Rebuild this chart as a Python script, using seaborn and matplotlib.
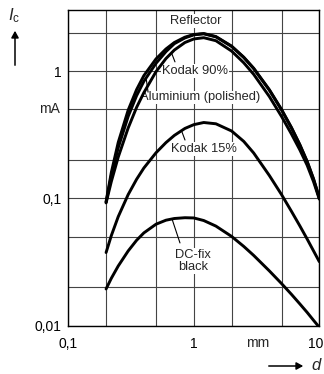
import numpy as np
import pandas as pd
import seaborn as sns
import matplotlib.pyplot as plt
import matplotlib.font_manager as fm
import matplotlib.transforms as mtransforms
from matplotlib.patches import FancyArrowPatch
from matplotlib.ticker import FixedLocator, NullFormatter

# distance d (mm) at which the curves were read
d_mm = [0.2, 0.22, 0.25, 0.3, 0.35, 0.4, 0.5, 0.6, 0.7, 0.85, 1, 1.2, 1.5,
        2, 2.5, 3, 4, 5, 6, 7, 8, 9, 10]

# collector current Ic (mA) per reflecting surface
reflector = [0.094, 0.159, 0.275, 0.493, 0.714, 0.92, 1.245, 1.49, 1.675, 1.845, 1.936, 1.97, 1.866,
             1.57, 1.285, 1.052, 0.713, 0.499, 0.36, 0.264, 0.195, 0.142, 0.101]
aluminium = [0.093, 0.15, 0.25, 0.44, 0.64, 0.83, 1.15, 1.42, 1.64, 1.82, 1.925, 1.96, 1.855,
             1.56, 1.277, 1.045, 0.708, 0.495, 0.357, 0.262, 0.194, 0.141, 0.1005]
kodak90 = [0.092, 0.135, 0.211, 0.357, 0.518, 0.676, 0.989, 1.253, 1.462, 1.675, 1.786, 1.827, 1.73,
           1.435, 1.161, 0.942, 0.63, 0.44, 0.32, 0.24, 0.182, 0.135, 0.0985]
kodak15 = [0.0375, 0.0508, 0.0718, 0.107, 0.141, 0.173, 0.228, 0.274, 0.312, 0.354, 0.379, 0.394, 0.385,
           0.338, 0.280, 0.227, 0.151, 0.107, 0.079, 0.0607, 0.0479, 0.0386, 0.0318]
dcfix = [0.0194, 0.0235, 0.0294, 0.0386, 0.0468, 0.0535, 0.0626, 0.0673, 0.0694, 0.0704, 0.0701, 0.0669, 0.0605,
         0.0502, 0.0419, 0.0356, 0.0269, 0.0214, 0.0176, 0.0148, 0.0127, 0.0110, 0.0097]

series = {"Reflector": reflector, "Aluminium (polished)": aluminium,
          "Kodak 90%": kodak90, "Kodak 15%": kodak15, "DC-fix black": dcfix}

x_ticks = [0.1, 1, 10]
x_ticklabels = ["0,1", "1", "10"]
y_ticks = [0.01, 0.1, 1]
y_ticklabels = ["0,01", "0,1", "1"]

rows = []
for name, vals in series.items():
    for d, ic in zip(d_mm, vals):
        rows.append({"d": d, "Ic": ic, "surface": name})
df = pd.DataFrame(rows)

# -------------------
# style
# -------------------
sns.set_style("white")
installed = {f.name for f in fm.fontManager.ttflist}
main_font = "Liberation Sans Narrow" if "Liberation Sans Narrow" in installed else "Liberation Sans"
plt.rcParams["font.family"] = [main_font, "DejaVu Sans"]
plt.rcParams["mathtext.fontset"] = "custom"
plt.rcParams["mathtext.it"] = main_font + ":italic"
plt.rcParams["mathtext.rm"] = main_font

fig = plt.figure(figsize=(3.24, 3.74), dpi=100)
ax = fig.add_axes([0.2108, 0.1294, 0.7747, 0.8431])

sns.lineplot(data=df, x="d", y="Ic", hue="surface", palette=["black"] * 5,
             estimator=None, sort=False, legend=False, lw=2.1, ax=ax, zorder=3)

ax.set_xscale("log")
ax.set_yscale("log")
ax.set_xlim(0.1, 10)
ax.set_ylim(0.01, 3)

ax.xaxis.set_major_locator(FixedLocator(x_ticks))
ax.xaxis.set_minor_locator(FixedLocator([0.2, 0.5, 2, 5]))
ax.yaxis.set_major_locator(FixedLocator(y_ticks))
ax.yaxis.set_minor_locator(FixedLocator([0.02, 0.05, 0.2, 0.5, 2]))
ax.set_xticklabels(x_ticklabels)
ax.set_yticklabels(y_ticklabels)
ax.xaxis.set_minor_formatter(NullFormatter())
ax.yaxis.set_minor_formatter(NullFormatter())
ax.tick_params(which="both", length=0, labelsize=10, colors="black")
ax.tick_params(axis="x", pad=8)
ax.tick_params(axis="y", pad=5)
ax.grid(which="both", color="#444444", lw=0.8)
ax.set_xlabel("")
ax.set_ylabel("")
for sp in ax.spines.values():
    sp.set_color("black")
    sp.set_linewidth(1.0)

# keep the "10" label inside the picture
last = ax.get_xticklabels()[-1]
last.set_transform(last.get_transform() + mtransforms.ScaledTranslation(-4 / 100, 0, fig.dpi_scale_trans))

# unit labels
ax.text(-0.035, 0.5, "mA", transform=ax.get_yaxis_transform(), ha="right", va="center", fontsize=10)
ax.text(3.2, -0.055, "mm", transform=ax.get_xaxis_transform(), ha="center", va="center", fontsize=10)

# curve labels
lab = 9.3
box = dict(facecolor="white", edgecolor="none", pad=0.5)
ax.text(1.04, 2.47, "Reflector", ha="center", va="center", fontsize=lab, bbox=box, zorder=2.5)
ax.text(1.02, 1.0, "Kodak 90%", ha="center", va="center", fontsize=lab, bbox=box, zorder=2.5)
ax.text(1.13, 0.62, "Aluminium (polished)", ha="center", va="center", fontsize=lab, bbox=box, zorder=2.5)
ax.text(1.21, 0.244, "Kodak 15%", ha="center", va="center", fontsize=lab, bbox=box, zorder=2.5)
ax.text(0.986, 0.0322, "DC-fix\nblack", ha="center", va="center", fontsize=lab,
        linespacing=1.05, bbox=box, zorder=2.5)

# pointer lines
pointers = [((0.708, 1.18), (0.664, 1.39)),
            ((0.432, 0.683), (0.417, 0.88)),
            ((0.851, 0.287), (0.798, 0.34)),
            ((0.776, 0.0446), (0.67, 0.069))]
for start, end in pointers:
    ax.annotate("", xy=end, xytext=start,
                arrowprops=dict(arrowstyle="-", lw=0.8, color="black",
                                shrinkA=0, shrinkB=0), zorder=4)

# axis quantity arrows
fig.text(14 / 324, 1 - 16 / 374, r"$I_{\rm c}$", ha="center", va="center", fontsize=12)
fig.add_artist(FancyArrowPatch(
    (15 / 324, 1 - 68 / 374), (15 / 324, 1 - 28 / 374), transform=fig.transFigure,
    arrowstyle="-|>,head_length=4,head_width=2.2", lw=1.1, color="black"))
fig.add_artist(FancyArrowPatch(
    (266 / 324, 1 - 366 / 374), (306 / 324, 1 - 366 / 374), transform=fig.transFigure,
    arrowstyle="-|>,head_length=4,head_width=2.2", lw=1.1, color="black"))
fig.text(311 / 324, 1 - 365 / 374, r"$d$", ha="left", va="center", fontsize=12)

fig.savefig("out.png", dpi=100)
plt.close(fig)
